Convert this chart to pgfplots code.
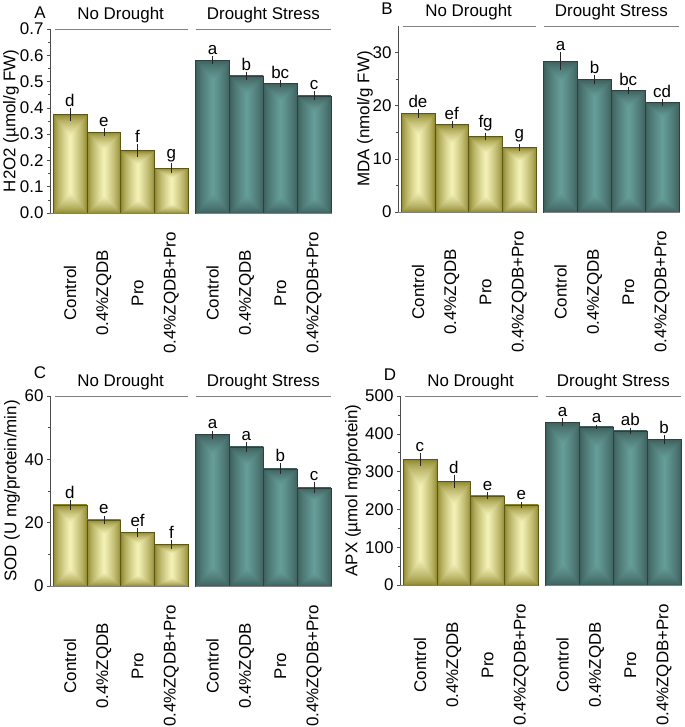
\documentclass[border=0pt]{standalone}
\usepackage{fontspec}
\setmainfont{Liberation Sans}
\usepackage{pgfplots}
\pgfplotsset{compat=1.18}
\usepackage{pgfplotstable}

\definecolor{olivedk}{rgb}{0.36,0.34,0.08}
\definecolor{tealdk}{rgb}{0.17,0.26,0.25}
\definecolor{axgray}{rgb}{0.30,0.30,0.30}
\definecolor{lngray}{rgb}{0.50,0.50,0.50}

% pyramid-like fills: dark at the edges, light along the middle
\pgfdeclarefunctionalshading{olivepyr}{\pgfpoint{-50bp}{-50bp}}{\pgfpoint{50bp}{50bp}}{}{
  abs 25 exch sub 2.3 mul exch abs 25 exch sub
  2 copy gt {exch} if pop 25 div
  dup 0 lt {pop 0} if 0.7 exp
  dup 0.42 mul 0.54 add exch
  dup 0.44 mul 0.51 add exch
  0.57 mul 0.15 add
}
\pgfdeclarefunctionalshading{tealpyr}{\pgfpoint{-50bp}{-50bp}}{\pgfpoint{50bp}{50bp}}{}{
  abs 25 exch sub 3.8 mul exch abs 25 exch sub
  2 copy gt {exch} if pop 25 div
  dup 0 lt {pop 0} if 0.8 exp
  dup 0.16 mul 0.24 add exch
  dup 0.25 mul 0.37 add exch
  0.24 mul 0.36 add
}

% H2O2
\pgfplotstableread{
x y e lab
1 0.375 0.017 d
2 0.308 0.010 e
3 0.237 0.018 f
4 0.171 0.011 g
}\Hno
\pgfplotstableread{
x y e lab
5.22 0.582 0.007 a
6.22 0.522 0.009 b
7.22 0.493 0.007 bc
8.22 0.446 0.011 c
}\Hds
% MDA
\pgfplotstableread{
x y e lab
1 18.6 0.5 de
2 16.45 0.4 ef
3 14.2 0.4 fg
4 12.15 0.35 g
}\Mno
\pgfplotstableread{
x y e lab
5.22 28.4 1.3 a
6.22 24.9 0.55 b
7.22 22.9 0.35 bc
8.22 20.6 0.4 cd
}\Mds
% SOD
\pgfplotstableread{
x y e lab
1 25.6 1.1 d
2 20.9 0.8 e
3 17.0 0.85 ef
4 13.1 0.95 f
}\Sno
\pgfplotstableread{
x y e lab
5.22 47.8 0.75 a
6.22 43.9 0.9 a
7.22 37.0 1.15 b
8.22 31.0 1.2 c
}\Sds
% APX
\pgfplotstableread{
x y e lab
1 332 13 c
2 274 12 d
3 236 5 e
4 212 4 e
}\Ano
\pgfplotstableread{
x y e lab
5.22 431 6 a
6.22 418 2 a
7.22 408 4 ab
8.22 385 7.5 b
}\Ads

\newcommand\fs{\fontsize{17}{20}\selectfont}

\pgfplotsset{
  panel/.style={
    scale only axis, width=282bp, anchor=south west,
    xmin=0.41, xmax=8.75, ymin=0,
    ybar, bar width=1, bar shift=0pt,
    axis lines*=left,
    x axis line style={draw=none},
    y axis line style={draw=axgray, line width=0.6pt},
    tick align=outside,
    major tick length=3bp, minor tick length=2bp,
    ytick style={draw=axgray, line width=0.6pt},
    minor y tick num=1,
    xtick={1,2,3,4,5.22,6.22,7.22,8.22},
    xticklabels={Control,0.4\%ZQDB,Pro,0.4\%ZQDB+Pro,Control,0.4\%ZQDB,Pro,0.4\%ZQDB+Pro},
    xtick style={draw=none},
    xticklabel style={yshift=-77bp, rotate=90, anchor=center},
    tick label style={font=\fs},
    label style={font=\fs},
    /pgf/number format/assume math mode=true,
    scaled y ticks=false,
    clip=false,
  },
  ebars/.style={error bars/y dir=both, error bars/y explicit,
    error bars/error bar style={draw=black!85, line width=0.45pt},
    error bars/error mark options={draw=black!85, line width=0.45pt, mark size=1.7bp}},
  nobars/.style={draw=olivedk, line width=0.5pt, shade, shading=olivepyr, ebars},
  dsbars/.style={draw=tealdk, line width=0.5pt, shade, shading=tealpyr, ebars},
  letters/.style={draw=none, fill=none, nodes near coords,
    point meta=explicit symbolic,
    every node near coord/.append style={font=\fs, text=black, anchor=south, inner sep=0pt, yshift=3bp}},
}

% one plot per bar, so that each bar gets its own shading
\newcommand\panelbars[2]{%
  \pgfplotsinvokeforeach{0,1,2,3}{%
    \addplot[restrict expr to domain={\coordindex}{##1:##1}, nobars] table[x=x, y=y, y error=e] {#1};
    \addplot[restrict expr to domain={\coordindex}{##1:##1}, dsbars] table[x=x, y=y, y error=e] {#2};
  }%
  \addplot[letters] table[x=x, y expr=\thisrow{y}+\thisrow{e}, meta=lab] {#1};
  \addplot[letters] table[x=x, y expr=\thisrow{y}+\thisrow{e}, meta=lab] {#2};
  \draw[lngray, line width=0.6pt] (axis description cs:0.018,1) -- (axis description cs:0.4904,1);
  \draw[lngray, line width=0.6pt] (axis description cs:0.5168,1) -- (axis description cs:0.9964,1);
  \draw[lngray, line width=0.6pt] (axis description cs:0,0) -- (axis description cs:0.4904,0);
  \draw[lngray, line width=0.6pt] (axis description cs:0.5168,0) -- (axis description cs:1,0);
  \node[font=\fs] at (axis description cs:0.2506,1) [yshift=14bp] {No Drought};
  \node[font=\fs] at (axis description cs:0.7566,1) [yshift=14bp] {Drought Stress};
}

\begin{document}
\begin{tikzpicture}
\useasboundingbox (0,0) rectangle (685bp,727bp);

% A
\begin{axis}[panel, at={(50bp,514bp)}, height=184bp,
  ymax=0.7, ytick={0,0.1,...,0.7},
  yticklabel style={/pgf/number format/fixed, /pgf/number format/fixed zerofill, /pgf/number format/precision=1},
  ylabel={H2O2 (µmol/g FW)},
  ylabel style={at={(axis description cs:-0.138,0.5)}, anchor=center}]
\panelbars{\Hno}{\Hds}
\end{axis}
\node[font=\fs] at (40bp,714bp) {A};

% B
\begin{axis}[panel, at={(398bp,515bp)}, height=186bp,
  ymax=35, ytick={0,10,20,30},
  ylabel={MDA (nmol/g FW)},
  ylabel style={at={(axis description cs:-0.117,0.5)}, anchor=center}]
\panelbars{\Mno}{\Mds}
\end{axis}
\node[font=\fs] at (387bp,718bp) {B};

% C
\begin{axis}[panel, at={(50bp,141bp)}, height=190bp,
  ymax=60, ytick={0,20,40,60},
  ylabel={SOD (U mg/protein/min)},
  ylabel style={at={(axis description cs:-0.135,0.5)}, anchor=center}]
\panelbars{\Sno}{\Sds}
\end{axis}
\node[font=\fs] at (40bp,354bp) {C};

% D
\begin{axis}[panel, at={(400bp,142bp)}, height=189bp,
  ymax=500, ytick={0,100,...,500},
  ylabel={APX (µmol mg/protein)},
  ylabel style={at={(axis description cs:-0.167,0.5)}, anchor=center}]
\panelbars{\Ano}{\Ads}
\end{axis}
\node[font=\fs] at (390bp,352bp) {D};

\end{tikzpicture}
\end{document}
